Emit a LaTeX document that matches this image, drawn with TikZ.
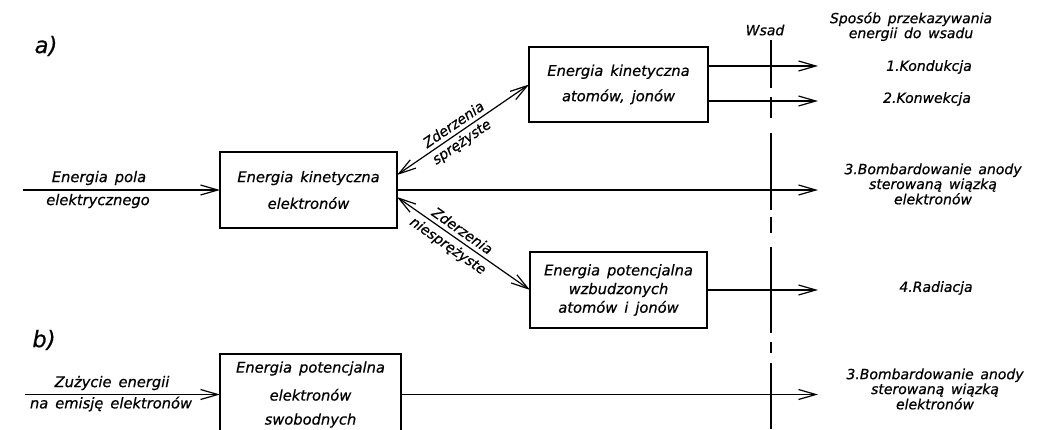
\documentclass[tikz,border=0pt]{standalone}
\usepackage{fontspec}
\setmainfont{DejaVu Sans}[WordSpace=1.5,ItalicFeatures={FakeBold=0.6}]
\usetikzlibrary{arrows.meta}
\newcommand\boxfnt{\itshape\fontsize{11}{14}\selectfont}
\newcommand\lblfnt{\itshape\fontsize{10.5}{9.5}\selectfont}
\newcommand\bigfnt{\itshape\fontsize{17}{17}\selectfont}
\begin{document}
\begin{tikzpicture}[x=0.75pt,y=-0.75pt,line width=0.9pt,
  box/.style={draw,inner sep=0pt,outer sep=0pt,align=center,font=\boxfnt},
  txt/.style={font=\boxfnt,align=center,inner sep=0pt},
  lbl/.style={font=\lblfnt,align=center,inner sep=0pt},
  slbl/.style={font=\lblfnt,sloped,midway},
  arr/.style={-{Straight Barb[length=13pt,width=7.5pt]}},
  darr/.style={{Straight Barb[length=13pt,width=7.5pt]}-{Straight Barb[length=13pt,width=7.5pt]}}]
\useasboundingbox (0,0) rectangle (1055,429);
\clip (0,0) rectangle (1055,429);
% labels a) b)
\node[font=\bigfnt,inner sep=0pt] (la) at (46,46) {a)};
\node[font=\bigfnt,inner sep=0pt] (lb) at (44,340) {b)};
% boxes
\node[box,minimum width=132.75pt,minimum height=57pt] (A) at (308.5,190) {Energia kinetyczna\\[6pt]elektronów};
\node[box,minimum width=134.25pt,minimum height=56.25pt] (B) at (618.5,84.5) {Energia kinetyczna\\[5pt]atomów, jonów};
\node[box,minimum width=132.75pt,minimum height=57pt] (C) at (618.5,290) {Energia potencjalna\\wzbudzonych\\atomów i jonów};
\node[box,minimum width=135.75pt,minimum height=60.75pt] (D) at (310.5,394.5) {Energia potencjalna\\[7pt]elektronów\\[4pt]swobodnych};
% inputs
\coordinate (inA) at (23,190);
\coordinate (inD) at (25,394.5);
\draw[arr] (inA) -- (A.west);
\draw[arr] (inD) -- (D.west);
\node[txt] (tA1) at (99,178) {Energia pola};
\node[txt] (tA2) at (98,201) {elektrycznego};
\node[txt] (tD1) at (112,383) {Zużycie energii};
\node[txt] (tD2) at (111,404) {na emisję elektronów};
% diagonals
\draw[darr] ([yshift=11.25pt]A.east) -- (B.west)
  node[slbl,above,pos=0.47,inner sep=3pt] (z1) {Zderzenia}
  node[slbl,below,pos=0.45,inner sep=2pt] (z2) {sprężyste};
\draw[darr] ([yshift=-5.25pt]A.east) -- (C.west)
  node[slbl,above,pos=0.45,inner sep=3pt] (z3) {Zderzenia}
  node[slbl,below,pos=0.43,inner sep=3pt] (z4) {niesprężyste};
% outputs
\coordinate (eB1) at (818,66);
\coordinate (eB2) at (818,101);
\coordinate (eA) at (818,190);
\coordinate (eC) at (818,290);
\coordinate (eD) at (818,394.5);
\draw[arr] (B.east |- eB1) -- (eB1);
\draw[arr] (B.east |- eB2) -- (eB2);
\draw[arr] (A.east) -- (eA);
\draw[arr] (C.east) -- (eC);
\draw[arr] (D.east) -- (eD);
% Wsad line
\draw (771,40) -- (771,88) (771,97) -- (771,118) (771,133) -- (771,210)
      (771,217) -- (771,233) (771,247) -- (771,333) (771,342) -- (771,353)
      (771,363) -- (771,429);
% headers and right labels
\node[lbl] (wsad) at (765,30) {Wsad};
\node[lbl] (spos) at (911,26.5) {Sposób przekazywania\\energii do wsadu};
\node[lbl] (k1) at (929,67) {1.Kondukcja};
\node[lbl] (k2) at (927,99) {2.Konwekcja};
\node[lbl] (k3) at (933,184) {3.Bombardowanie anody\\sterowaną wiązką\\elektronów};
\node[lbl] (k4) at (936,288) {4.Radiacja};
\node[lbl] (k5) at (935,389) {3.Bombardowanie anody\\sterowaną wiązką\\elektronów};
\end{tikzpicture}
\end{document}
